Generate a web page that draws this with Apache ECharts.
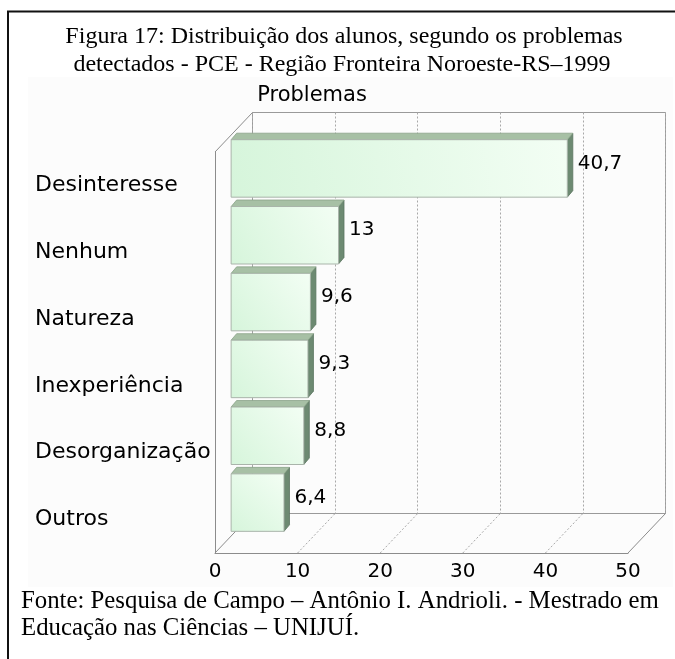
<!DOCTYPE html>
<html>
<head>
<meta charset="utf-8">
<title>Figura 17</title>
<script src="https://cdn.jsdelivr.net/npm/echarts@6/dist/echarts.min.js"></script>
<style>
  html, body { margin: 0; padding: 0; background: #fff; }
  #main { width: 675px; height: 659px; }
</style>
</head>
<body>
<div id="main"></div>
<script>
// dados do grafico
var categorias = ['Desinteresse', 'Nenhum', 'Natureza', 'Inexperiência', 'Desorganização', 'Outros'];
var valores = [40.7, 13, 9.6, 9.3, 8.8, 6.4];
var eixoMin = 0;
var eixoMax = 50;
var eixoIntervalo = 10;
var ticks = [0, 10, 20, 30, 40, 50];

var titulo1 = 'Figura 17: Distribuição dos alunos, segundo os problemas';
var titulo2 = 'detectados - PCE - Região Fronteira Noroeste-RS–1999';
var rotuloEixo = 'Problemas';
var fonte1 = 'Fonte: Pesquisa de Campo – Antônio I. Andrioli. - Mestrado em';
var fonte2 = 'Educação nas Ciências – UNIJUÍ.';

// efeito 3D: deslocamento da parede do fundo
var DX = 37.5, DY = -39.5;
var PROF = 0.43;          // profundidade da face frontal das barras
var SX = 5.5, SY = -6.5;  // espessura das barras
var SANS = 'DejaVu Sans';
var SERIF = 'Liberation Serif';

var myChart = echarts.init(document.getElementById('main'));

var dadosBarras = [];
for (var k = 0; k < valores.length; k++) {
  dadosBarras.push([valores[k], k]);
}
var dadosMoldura = [];
for (var t = 0; t < ticks.length; t++) {
  dadosMoldura.push([ticks[t], 0]);
}

function fmt(v) {
  return String(v).replace('.', ',');
}

// linhas do piso e parede esquerda
function renderMoldura(params, api) {
  var v = api.value(0);
  var cs = params.coordSys;
  var x = api.coord([v, 0])[0];
  var base = cs.y + cs.height;
  var pontilhado = (v !== eixoMin && v !== eixoMax);
  var estilo = { stroke: pontilhado ? '#a8a8a8' : '#8c8c8c', lineWidth: 1, lineDash: pontilhado ? [2, 2] : null };
  var filhos = [{
    type: 'line',
    shape: { x1: x, y1: base, x2: x + DX, y2: base + DY },
    style: estilo
  }];
  if (v === eixoMin) {
    filhos.push({
      type: 'line',
      shape: { x1: x, y1: cs.y, x2: x + DX, y2: cs.y + DY },
      style: { stroke: '#8c8c8c', lineWidth: 1 }
    });
  }
  return { type: 'group', children: filhos };
}

// barra em caixa 3D
function renderBarra(params, api) {
  var v = api.value(0);
  var i = api.value(1);
  var p0 = api.coord([0, i]);
  var p1 = api.coord([v, i]);
  var banda = api.size([0, 1])[1];
  var h = banda * 0.86;
  var x0 = p0[0] + DX * PROF;
  var x1 = p1[0] + DX * PROF;
  var yc = p0[1] + DY * PROF;
  var yt = yc - h / 2;
  var yb = yc + h / 2;
  return {
    type: 'group',
    children: [
      {
        type: 'polygon',
        shape: { points: [[x1, yt], [x1 + SX, yt + SY], [x1 + SX, yb + SY], [x1, yb]] },
        style: { fill: '#6d8a72', stroke: '#5b7560', lineWidth: 0.8 }
      },
      {
        type: 'polygon',
        shape: { points: [[x0, yt], [x1, yt], [x1 + SX, yt + SY], [x0 + SX, yt + SY]] },
        style: { fill: '#a7c0a5', stroke: '#8aa389', lineWidth: 0.8 }
      },
      {
        type: 'rect',
        shape: { x: x0, y: yt, width: x1 - x0, height: h },
        style: {
          fill: new echarts.graphic.LinearGradient(0, 1, 1, 0, [
            { offset: 0, color: '#d6f5db' },
            { offset: 1, color: '#f3fef4' }
          ]),
          stroke: '#a9b4aa',
          lineWidth: 1
        }
      },
      {
        type: 'text',
        x: x1 + SX + 5,
        y: yc - 5,
        style: {
          text: fmt(v),
          fontFamily: SANS,
          fontSize: 20,
          fill: '#000',
          align: 'left',
          verticalAlign: 'middle'
        }
      }
    ]
  };
}

var option = {
  backgroundColor: '#fff',
  animation: false,
  graphic: [
    { type: 'rect', z: -10, shape: { x: 28, y: 77, width: 645, height: 510 }, style: { fill: '#fcfcfc' } },
    { type: 'line', shape: { x1: 7, y1: 11.5, x2: 675, y2: 11.5 }, style: { stroke: '#111', lineWidth: 2 } },
    { type: 'line', shape: { x1: 8, y1: 11, x2: 8, y2: 659 }, style: { stroke: '#111', lineWidth: 2 } },
    { type: 'text', x: 344, y: 37, style: { text: titulo1, fontFamily: SERIF, fontSize: 24, fill: '#000', align: 'center', verticalAlign: 'middle' } },
    { type: 'text', x: 342, y: 65, style: { text: titulo2, fontFamily: SERIF, fontSize: 24, fill: '#000', align: 'center', verticalAlign: 'middle' } },
    { type: 'text', x: 312, y: 96, style: { text: rotuloEixo, fontFamily: SANS, fontSize: 21, fill: '#000', align: 'center', verticalAlign: 'middle' } },
    { type: 'text', x: 21, y: 601.5, style: { text: fonte1, fontFamily: SERIF, fontSize: 24.8, fill: '#000', align: 'left', verticalAlign: 'middle' } },
    { type: 'text', x: 21, y: 628.5, style: { text: fonte2, fontFamily: SERIF, fontSize: 24.8, fill: '#000', align: 'left', verticalAlign: 'middle' } }
  ],
  grid: [
    // plano frontal
    { left: 215, right: 47, top: 152, bottom: 106 },
    // parede do fundo
    { left: 215 + DX, right: 47 - DX, top: 152 + DY, bottom: 106 - DY, show: true, borderColor: '#9a9a9a', borderWidth: 1, backgroundColor: 'transparent' }
  ],
  xAxis: [
    {
      gridIndex: 0, type: 'value', min: eixoMin, max: eixoMax, interval: eixoIntervalo,
      axisLine: { show: true, lineStyle: { color: '#8c8c8c', width: 1 } },
      axisTick: { show: false },
      splitLine: { show: false },
      axisLabel: { margin: 19, verticalAlign: 'middle', fontFamily: SANS, fontSize: 20, color: '#000' }
    },
    {
      gridIndex: 1, type: 'value', min: eixoMin, max: eixoMax, interval: eixoIntervalo,
      axisLine: { show: false }, axisTick: { show: false }, axisLabel: { show: false },
      splitLine: { show: true, lineStyle: { color: '#a8a8a8', type: [2, 2], width: 1 } }
    }
  ],
  yAxis: [
    {
      gridIndex: 0, type: 'category', data: categorias, inverse: true,
      axisLine: { show: true, lineStyle: { color: '#8c8c8c', width: 1 } },
      axisTick: { show: false },
      splitLine: { show: false },
      axisLabel: { align: 'left', margin: 180, padding: [3, 0, 0, 0], fontFamily: SANS, fontSize: 22, color: '#000' }
    },
    { gridIndex: 1, type: 'value', show: false, min: 0, max: 1, splitLine: { show: false } }
  ],
  series: [
    {
      type: 'custom', name: 'moldura', xAxisIndex: 0, yAxisIndex: 0,
      data: dadosMoldura, encode: { x: 0, y: 1 }, renderItem: renderMoldura, z: 1, silent: true
    },
    {
      type: 'custom', name: 'Problemas', xAxisIndex: 0, yAxisIndex: 0,
      data: dadosBarras, encode: { x: 0, y: 1 }, renderItem: renderBarra, z: 5
    }
  ]
};

myChart.setOption(option);
</script>
</body>
</html>
